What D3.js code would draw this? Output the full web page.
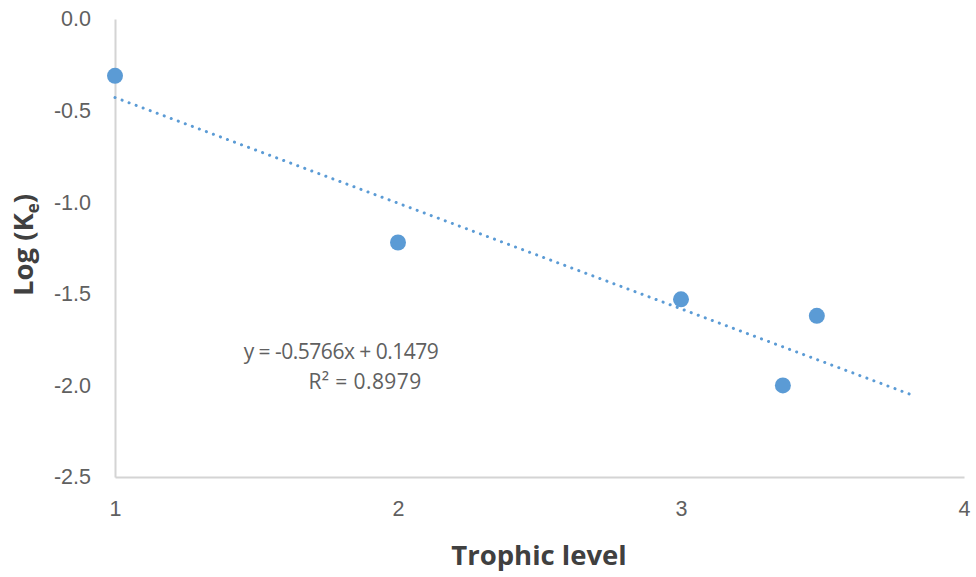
<!DOCTYPE html>
<html>
<head>
<meta charset="utf-8">
<script src="https://cdn.jsdelivr.net/npm/d3@7/dist/d3.min.js"></script>
<style>
  html, body { margin: 0; padding: 0; background: #fff; }
  svg { display: block; font-family: "Open Sans", Lato, "Liberation Sans", sans-serif; }
</style>
</head>
<body>
<svg id="chart" width="976" height="577"></svg>
<script>
// Trophic level vs log(Ke) observations
const trophicLevel = [1, 2, 3, 3.36, 3.48];
const logKe = [-0.31, -1.22, -1.53, -2.0, -1.62];

// Linear fit reported on the chart
const fitSlope = -0.5766;
const fitIntercept = 0.1479;
const fitR2 = 0.8979;
const fitRange = [1, 3.82];

const xTicks = [1, 2, 3, 4];
const yTicks = [0, -0.5, -1, -1.5, -2, -2.5];

const svg = d3.select("#chart");
const x = d3.scaleLinear().domain([1, 4]).range([115, 964]);
const y = d3.scaleLinear().domain([-2.5, 0]).range([477, 19]);

const blue = "#5b9bd5";
const tickColor = "#606060";
const hyphenMinus = f => d => f(d).replace("\u2212", "-");

// Axes: plain light-grey lines, no tick marks
const xAxis = d3.axisBottom(x).tickValues(xTicks).tickSize(0).tickPadding(24)
  .tickFormat(hyphenMinus(d3.format("d")));
const yAxis = d3.axisLeft(y).tickValues(yTicks).tickSize(0).tickPadding(24)
  .tickFormat(hyphenMinus(d3.format(".1f")));

const gx = svg.append("g").attr("transform", `translate(0,${y(-2.5)})`).call(xAxis);
const gy = svg.append("g").attr("transform", `translate(${x(1)},0)`).call(yAxis);

[gx, gy].forEach(g => {
  g.select(".domain").attr("stroke", "#d4d4d4").attr("stroke-width", 2);
  g.selectAll("text").attr("fill", tickColor).style("font-size", "21.5px");
});

// Trend line (dotted)
const fitLine = d3.line().x(d => x(d)).y(d => y(fitSlope * d + fitIntercept));
svg.append("path")
  .datum(fitRange)
  .attr("d", fitLine)
  .attr("fill", "none")
  .attr("stroke", blue)
  .attr("stroke-width", 3)
  .attr("stroke-linecap", "round")
  .attr("stroke-dasharray", "0.1 7.4");

// Data points
svg.append("g").selectAll("circle")
  .data(trophicLevel.map((t, i) => [t, logKe[i]]))
  .join("circle")
  .attr("cx", d => x(d[0]))
  .attr("cy", d => y(d[1]))
  .attr("r", 8)
  .attr("fill", blue);

// Fit equation
const eq = svg.append("g").attr("fill", tickColor).style("font-size", "21px")
  .attr("text-anchor", "middle").style("letter-spacing", "-0.5px");
eq.append("text").attr("x", 341).attr("y", 359)
  .text(`y = ${fitSlope}x + ${fitIntercept}`);
eq.append("text").attr("x", 365).attr("y", 389).style("letter-spacing", "0.4px")
  .text(`R² = ${fitR2}`);

// Axis titles
svg.append("text")
  .attr("x", 539).attr("y", 565)
  .attr("text-anchor", "middle")
  .attr("fill", "#404040")
  .style("font-size", "27.5px").style("font-weight", "bold")
  .text("Trophic level");

const yt = svg.append("text")
  .attr("transform", "translate(33,245) rotate(-90)")
  .attr("text-anchor", "middle")
  .attr("fill", "#404040")
  .style("font-size", "27.5px").style("font-weight", "bold");
yt.append("tspan").text("Log (K");
yt.append("tspan").attr("dy", 6).style("font-size", "17px").text("e");
yt.append("tspan").attr("dy", -6).text(")");
</script>
</body>
</html>
